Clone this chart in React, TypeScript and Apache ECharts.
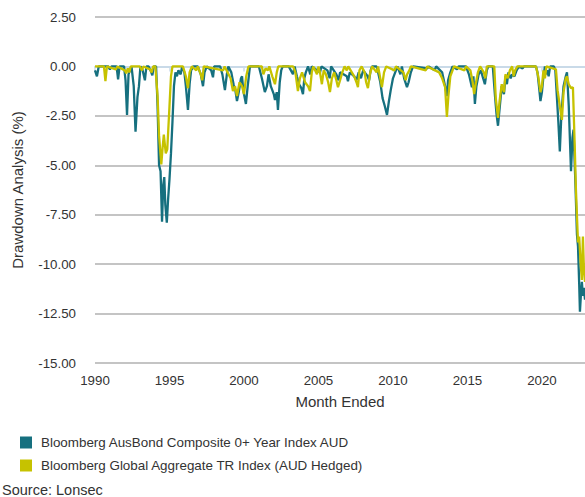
import React, { useEffect, useRef } from "react";
import * as echarts from "echarts";

const seriesNames = [
  "Bloomberg AusBond Composite 0+ Year Index AUD",
  "Bloomberg Global Aggregate TR Index (AUD Hedged)",
];

const yTicks = [2.5, 0, -2.5, -5, -7.5, -10, -12.5, -15];
const xTickYears = [1990, 1995, 2000, 2005, 2010, 2015, 2020];

// AusBond drawdown (decimal year, %)
const ausDates = [
  1990.0, 1990.13, 1990.25, 1990.9, 1991.0, 1991.1, 1991.45, 1991.55, 1991.65, 1991.95,
  1992.05, 1992.15, 1992.25, 1992.35, 1992.45, 1992.6, 1992.72, 1992.85, 1992.95, 1993.05,
  1993.2, 1993.35, 1993.45, 1993.6, 1993.75, 1993.85, 1993.95, 1994.1, 1994.2, 1994.3,
  1994.4, 1994.5, 1994.58, 1994.65, 1994.72, 1994.82, 1994.9, 1995.0, 1995.1, 1995.2,
  1995.3, 1995.4, 1995.5, 1995.6, 1995.75, 1995.85, 1996.0, 1996.1, 1996.24, 1996.35,
  1996.45, 1996.6, 1996.9, 1997.1, 1997.25, 1997.35, 1997.5, 1997.8, 1997.92, 1998.0,
  1998.4, 1998.55, 1998.72, 1998.85, 1998.95, 1999.15, 1999.3, 1999.42, 1999.53, 1999.65,
  1999.8, 1999.87, 1999.95, 2000.13, 2000.25, 2000.4, 2001.0, 2001.2, 2001.4, 2001.54,
  2001.65, 2001.8, 2002.0, 2002.08, 2002.2, 2002.28, 2002.4, 2002.5, 2002.6, 2003.0,
  2003.15, 2003.29, 2003.4, 2003.55, 2003.7, 2003.85, 2003.96, 2004.05, 2004.15, 2004.3,
  2004.45, 2004.55, 2005.1, 2005.2, 2005.6, 2005.75, 2005.85, 2006.2, 2006.35, 2006.45,
  2006.9, 2006.98, 2007.1, 2007.4, 2007.55, 2007.7, 2007.85, 2008.0, 2008.3, 2008.4,
  2008.5, 2008.6, 2008.9, 2009.0, 2009.15, 2009.3, 2009.45, 2009.6, 2009.72, 2009.85,
  2010.0, 2010.15, 2010.3, 2010.5, 2010.6, 2010.75, 2010.94, 2011.05, 2011.2, 2011.35,
  2012.3, 2012.4, 2012.8, 2012.9, 2013.3, 2013.5, 2013.62, 2013.7, 2013.85, 2014.0,
  2014.3, 2014.4, 2014.9, 2015.1, 2015.3, 2015.4, 2015.5, 2015.6, 2015.75, 2015.9,
  2016.05, 2016.17, 2016.3, 2016.4, 2016.7, 2016.85, 2016.95, 2017.05, 2017.15, 2017.3,
  2017.45, 2017.55, 2017.65, 2017.75, 2017.9, 2018.0, 2018.15, 2018.3, 2018.45, 2018.7,
  2018.8, 2019.6, 2019.7, 2019.8, 2019.9, 2020.0, 2020.1, 2020.2, 2020.25, 2020.35,
  2020.45, 2020.55, 2020.8, 2020.9, 2021.0, 2021.1, 2021.2, 2021.3, 2021.45, 2021.6,
  2021.68, 2021.8, 2021.95, 2022.05, 2022.12, 2022.25, 2022.35, 2022.42, 2022.5, 2022.55,
  2022.62, 2022.68, 2022.75, 2022.82, 2022.89,
];
const ausValues = [
  -0.2, -0.5, 0, 0, -0.15, 0, 0, -0.65, 0, 0,
  -0.7, -2.45, -0.4, -0.2, 0, -1.0, -3.3, -1.55, -1.0, 0,
  -0.2, -0.7, 0, 0, -0.25, -0.45, 0, 0, -2.0, -5.0,
  -5.3, -7.85, -6.0, -5.6, -7.0, -7.9, -6.8, -5.7, -4.4, -2.8,
  -1.0, -0.3, -0.5, -0.2, -0.4, 0, -0.3, -1.0, -2.2, -0.9,
  -0.2, 0, 0, -0.4, -1.0, -0.3, 0, -0.2, -0.55, 0,
  0, -0.4, -1.2, -0.4, 0, -0.3, -0.9, -1.2, -1.75, -1.3,
  -0.6, -0.5, -1.2, -1.9, -1.0, 0, 0, -0.6, -1.3, -1.0,
  -0.4, -1.0, -1.4, -1.7, -1.3, -2.2, -0.8, -0.2, 0, 0,
  -0.2, -0.4, 0, -0.5, -0.9, -1.1, -1.4, -0.6, -0.3, 0,
  -0.4, 0, -0.3, 0, -0.2, -0.6, 0, -0.4, -0.7, -0.3,
  -0.5, -0.75, -0.3, -0.5, -0.7, -0.3, -0.6, -0.2, -0.5, -0.7,
  -0.2, 0, 0, -0.3, -0.8, -1.6, -2.0, -2.45, -1.8, -1.2,
  -0.6, -0.3, 0, -0.4, 0, -0.6, -1.05, -0.8, -0.3, 0,
  -0.1, 0, -0.2, 0, -0.3, -1.0, -1.5, -0.7, -0.3, 0,
  -0.15, 0, 0, -0.4, -1.05, -0.5, -1.9, -1.0, -0.4, -0.2,
  -0.6, -0.9, -0.2, 0, 0, -1.5, -2.4, -3.0, -2.2, -1.0,
  -1.4, -0.5, -0.9, -0.3, -0.6, -0.4, -0.5, -0.2, 0, -0.1,
  0, 0, -0.3, -1.0, -1.75, -1.3, -0.5, 0, -0.4, -0.2,
  -0.5, 0, 0, -0.2, -1.5, -2.8, -4.3, -2.5, -1.0, -0.5,
  -0.3, -2.0, -5.3, -3.6, -3.2, -6.0, -8.5, -9.1, -11.0, -12.4,
  -11.5, -10.9, -11.6, -11.2, -11.8,
];

// Global Aggregate (AUD hedged) drawdown (decimal year, %)
const globDates = [
  1990.0, 1990.6, 1990.7, 1990.8, 1991.4, 1991.5, 1992.0, 1992.1, 1992.2, 1992.3,
  1992.4, 1993.0, 1993.15, 1993.25, 1993.7, 1993.8, 1993.9, 1994.05, 1994.2, 1994.3,
  1994.45, 1994.55, 1994.62, 1994.75, 1994.85, 1995.0, 1995.1, 1995.2, 1995.9, 1996.1,
  1996.24, 1996.35, 1996.5, 1996.8, 1996.9, 1997.1, 1997.2, 1997.3, 1998.6, 1998.7,
  1998.9, 1999.1, 1999.26, 1999.4, 1999.53, 1999.7, 1999.87, 2000.0, 2000.15, 2000.3,
  2001.2, 2001.3, 2001.45, 2001.6, 2001.7, 2001.9, 2002.08, 2002.2, 2002.3, 2003.3,
  2003.45, 2003.62, 2003.75, 2003.9, 2004.1, 2004.3, 2004.43, 2004.55, 2004.65, 2004.9,
  2005.0, 2005.1, 2005.23, 2005.35, 2005.5, 2005.65, 2005.77, 2005.9, 2006.05, 2006.2,
  2006.31, 2006.45, 2006.6, 2006.75, 2006.9, 2007.0, 2007.4, 2007.55, 2007.65, 2007.75,
  2007.9, 2008.1, 2008.2, 2008.32, 2008.45, 2008.6, 2008.9, 2009.0, 2009.1, 2009.26,
  2009.4, 2009.55, 2010.1, 2010.2, 2010.7, 2010.85, 2010.95, 2011.1, 2011.2, 2012.2,
  2012.3, 2013.1, 2013.3, 2013.5, 2013.62, 2013.72, 2013.85, 2014.0, 2014.1, 2014.8,
  2014.9, 2015.2, 2015.35, 2015.45, 2015.55, 2015.7, 2015.85, 2016.1, 2016.2, 2016.3,
  2016.8, 2016.9, 2017.05, 2017.15, 2017.3, 2017.45, 2017.55, 2017.7, 2017.85, 2018.0,
  2018.1, 2018.2, 2018.35, 2019.6, 2019.75, 2019.9, 2020.0, 2020.1, 2020.2, 2020.3,
  2020.94, 2021.05, 2021.2, 2021.34, 2021.45, 2021.6, 2021.68, 2021.8, 2021.95, 2022.08,
  2022.2, 2022.28, 2022.42, 2022.5, 2022.6, 2022.68, 2022.75, 2022.82, 2022.89,
];
const globValues = [
  0, 0, -0.75, 0, -0.15, 0, -0.2, -0.35, -0.1, -0.3,
  0, 0, -0.2, 0, -0.15, -0.3, 0, 0, -1.5, -3.5,
  -4.95, -4.0, -3.45, -4.4, -4.2, -2.0, -0.5, 0, 0, -0.5,
  -1.1, -0.3, 0, -0.2, 0, -0.4, -0.7, 0, -0.2, 0,
  -0.3, -0.6, -1.25, -1.0, -1.5, -0.8, -1.0, -1.4, -0.5, 0,
  0, -0.4, -0.1, -0.2, 0, -0.5, -0.9, -0.3, 0, 0,
  -0.3, -1.25, -0.6, -0.3, -0.8, -1.0, -1.25, -0.3, 0, -0.4,
  0, -0.3, -0.9, -0.2, -0.4, -0.8, -1.3, -0.6, -0.3, -0.7,
  -1.05, -0.7, -0.3, 0, -0.2, 0, -0.5, -0.8, -1.05, -0.2,
  0, -0.3, -0.8, -1.1, -0.4, 0, -0.3, 0, -0.4, -1.05,
  -0.3, 0, -0.2, 0, -0.3, -0.7, -0.4, -0.2, 0, -0.2,
  0, -0.3, -0.6, -1.05, -2.55, -1.5, -0.5, -0.2, 0, -0.2,
  0, -0.2, -0.8, -1.4, -0.9, -0.3, 0, -0.3, -0.6, 0,
  0, -1.6, -2.6, -1.8, -0.9, -1.3, -0.4, -0.6, -0.2, 0,
  -0.5, -0.2, 0, 0, -0.5, -1.3, -1.0, -0.2, -0.6, 0,
  -0.15, -1.2, -2.0, -2.7, -1.3, -0.6, -0.5, -0.9, -1.1, -1.05,
  -4.0, -6.2, -8.9, -8.6, -10.0, -10.8, -8.6, -10.3, -10.9,
];

const seriesColors = ["#16707f", "#c6c200"];
const FONT = "'Liberation Sans', Arial, sans-serif";

export default function App() {
  const ref = useRef<HTMLDivElement>(null);

  useEffect(() => {
    if (!ref.current) return;
    const chart = echarts.init(ref.current, undefined, { renderer: "svg" });
    const toPairs = (d: number[], v: number[]) => d.map((x, i) => [x, v[i]]);
    chart.setOption({
      animation: false,
      textStyle: { fontFamily: FONT },
      grid: { left: 95, right: 0, top: 17, bottom: 134, containLabel: false },
      legend: {
        data: seriesNames,
        orient: "vertical",
        left: 20,
        top: 436,
        padding: 0,
        icon: "rect",
        itemWidth: 12,
        itemHeight: 12,
        itemGap: 10,
        textStyle: { color: "#333", fontSize: 13.4, fontFamily: FONT, padding: [0, 0, 0, 4] },
      },
      graphic: [
        {
          type: "text",
          left: 2,
          top: 482,
          style: { text: "Source: Lonsec", fill: "#333", fontSize: 14.5, fontFamily: FONT },
        },
      ],
      xAxis: {
        type: "value",
        min: 1990,
        max: 2022.89,
        interval: 5,
        name: "Month Ended",
        nameLocation: "middle",
        nameGap: 31,
        nameTextStyle: { color: "#333", fontSize: 15, fontFamily: FONT },
        axisLine: { show: true, lineStyle: { color: "#c9dae8", width: 2 } },
        axisTick: { show: true, length: 5, lineStyle: { color: "#c9dae8", width: 1.5 } },
        axisLabel: {
          color: "#333",
          fontSize: 13.3,
          margin: 11,
          showMaxLabel: false,
          formatter: (v: number) => (xTickYears.includes(Math.round(v)) && Math.abs(v - Math.round(v)) < 1e-6 ? String(Math.round(v)) : ""),
        },
        splitLine: { show: false },
      },
      yAxis: {
        type: "value",
        min: yTicks[yTicks.length - 1],
        max: yTicks[0],
        interval: 2.5,
        name: "Drawdown Analysis (%)",
        nameLocation: "middle",
        nameGap: 70,
        nameTextStyle: { color: "#333", fontSize: 15, fontFamily: FONT },
        axisLine: { show: false },
        axisTick: { show: false },
        axisLabel: {
          color: "#333",
          fontSize: 13.3,
          margin: 19,
          formatter: (v: number) => v.toFixed(2),
        },
        splitLine: { show: true, lineStyle: { color: "#b0b0b0", width: 1.6 } },
      },
      series: [
        {
          name: seriesNames[0],
          type: "line",
          data: toPairs(ausDates, ausValues),
          showSymbol: false,
          color: seriesColors[0],
          lineStyle: { width: 2.3, color: seriesColors[0] },
          z: 2,
        },
        {
          name: seriesNames[1],
          type: "line",
          data: toPairs(globDates, globValues),
          showSymbol: false,
          color: seriesColors[1],
          lineStyle: { width: 2.3, color: seriesColors[1] },
          z: 3,
        },
      ],
    });
    return () => chart.dispose();
  }, []);

  return (
    <div
      ref={ref}
      style={{ position: "fixed", left: 0, top: 0, width: 585, height: 497, background: "#fff" }}
    />
  );
}
